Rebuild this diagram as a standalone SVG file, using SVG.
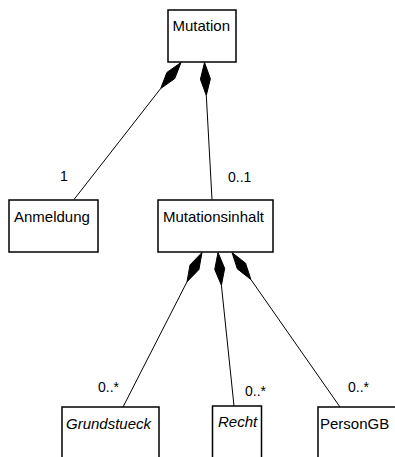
<svg xmlns="http://www.w3.org/2000/svg" width="395" height="457" viewBox="0 0 395 457">
<style>
.box{fill:#fff;stroke:#000;stroke-width:1.5}
.name{font-family:"Liberation Sans",Arial,sans-serif;font-size:15px;fill:#000}
.it{font-style:italic}
.lbl{font-family:"Liberation Sans",Arial,sans-serif;font-size:14px;fill:#000}
.ln{fill:none;stroke:#000;stroke-width:1}
.dia{fill:#000;stroke:#000;stroke-width:1}
</style>
<rect width="395" height="457" fill="#fff"/>
<g id="connectors">
<polygon class="dia" points="181,62.5 174.78,78.59 160.69,88.51 166.90,72.43"/>
<line class="ln" x1="160.69" y1="88.51" x2="74" y2="199.5"/>
<polygon class="dia" points="204.5,62.5 210.39,78.71 206.31,95.45 200.41,79.25"/>
<line class="ln" x1="206.31" y1="95.45" x2="212" y2="199.5"/>
<polygon class="dia" points="202,252.5 198.94,269.47 186.98,281.89 190.04,264.91"/>
<line class="ln" x1="186.98" y1="281.89" x2="123" y2="407"/>
<polygon class="dia" points="218,252.5 224.68,268.39 221.42,285.33 214.74,269.43"/>
<line class="ln" x1="221.42" y1="285.33" x2="234" y2="406"/>
<polygon class="dia" points="232,252.5 245.55,263.16 250.91,279.55 237.35,268.88"/>
<line class="ln" x1="250.91" y1="279.55" x2="340" y2="407"/>
<text class="lbl" x="60" y="181">1</text>
<text class="lbl" x="228" y="182">0..1</text>
<text class="lbl" x="98" y="392">0..*</text>
<text class="lbl" x="245" y="396">0..*</text>
<text class="lbl" x="348" y="392">0..*</text>
</g>
<g id="Mutation"><rect class="box" x="168" y="10" width="68" height="52"/><text class="name" x="172.5" y="31">Mutation</text></g>
<g id="Anmeldung"><rect class="box" x="9" y="200" width="89" height="52"/><text class="name" x="14" y="222">Anmeldung</text></g>
<g id="Mutationsinhalt"><rect class="box" x="158" y="200" width="115" height="52"/><text class="name" x="163" y="222">Mutationsinhalt</text></g>
<g id="Grundstueck"><rect class="box" x="62" y="407" width="97" height="60"/><text class="name it" x="66" y="429">Grundstueck</text></g>
<g id="Recht"><rect class="box" x="212.5" y="406" width="49" height="60"/><text class="name it" x="218" y="427">Recht</text></g>
<g id="PersonGB"><rect class="box" x="318" y="407" width="85" height="60"/><text class="name" x="320" y="429">PersonGB</text></g>
</svg>
